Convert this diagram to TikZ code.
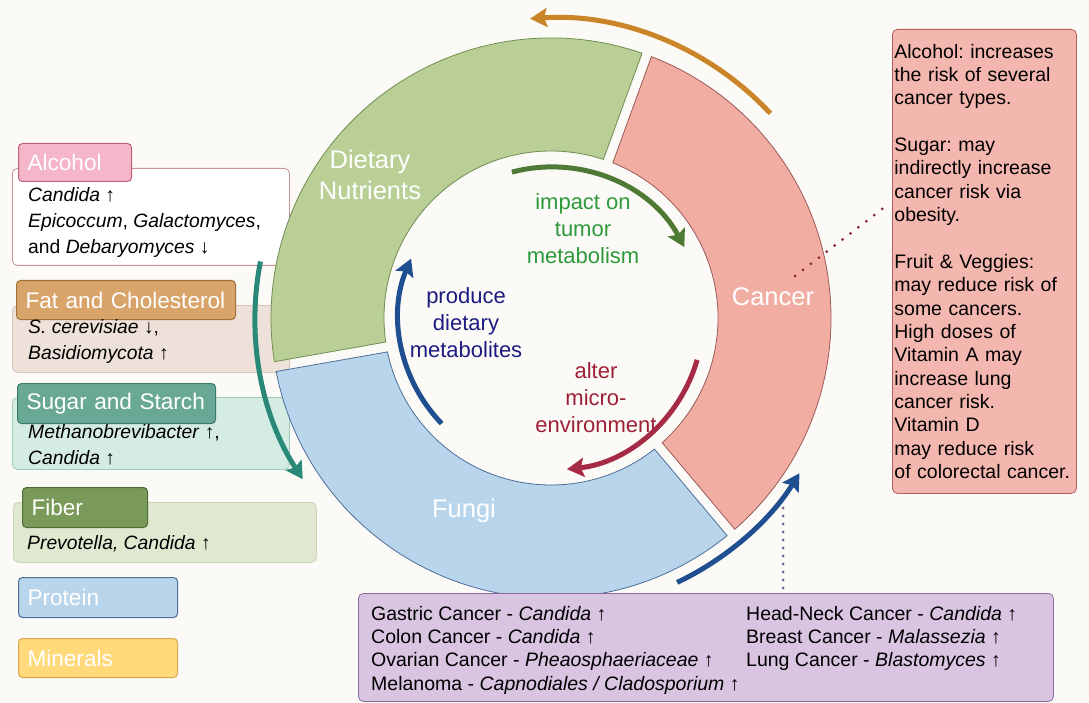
\documentclass[tikz,border=0pt]{standalone}
\usepackage{fontspec}
\setmainfont{Liberation Sans}
\usetikzlibrary{arrows.meta}
\frenchspacing

\definecolor{bgcol}{HTML}{FCFAF7}
\definecolor{dietfill}{HTML}{B9CF95}
\definecolor{dietline}{HTML}{6F8E52}
\definecolor{cancerfill}{HTML}{F2ADA3}
\definecolor{cancerline}{HTML}{9A5A58}
\definecolor{fungifill}{HTML}{B9D5EC}
\definecolor{fungiline}{HTML}{4D6E99}
\definecolor{alcfill}{HTML}{F4B6C8}
\definecolor{alcline}{HTML}{C0607A}
\definecolor{alcbody}{HTML}{C89494}
\definecolor{fatfill}{HTML}{D9A469}
\definecolor{fatline}{HTML}{A0703A}
\definecolor{fatbody}{HTML}{EDE1D9}
\definecolor{fatbodyline}{HTML}{D8C8BC}
\definecolor{sugfill}{HTML}{6AA896}
\definecolor{sugline}{HTML}{3A7A6A}
\definecolor{sugbody}{HTML}{D5ECE3}
\definecolor{sugbodyline}{HTML}{9CCBBB}
\definecolor{fibfill}{HTML}{7A9A5A}
\definecolor{fibline}{HTML}{506A38}
\definecolor{fibbody}{HTML}{E0E8D0}
\definecolor{fibbodyline}{HTML}{C8D4B4}
\definecolor{minfill}{HTML}{FFD97A}
\definecolor{minline}{HTML}{D8A84A}
\definecolor{infofill}{HTML}{F4B7AF}
\definecolor{infoline}{HTML}{B0605C}
\definecolor{genusfill}{HTML}{D9C4E2}
\definecolor{genusline}{HTML}{8A6C9C}
\definecolor{orangeA}{HTML}{C98527}
\definecolor{greenA}{HTML}{4F7A35}
\definecolor{blueA}{HTML}{1F4F91}
\definecolor{redA}{HTML}{A52A45}
\definecolor{tealA}{HTML}{2A8878}
\definecolor{greenT}{HTML}{2D9A3A}
\definecolor{navyT}{HTML}{1C1C80}
\definecolor{redT}{HTML}{9E2036}
\definecolor{dotred}{HTML}{8A1F2E}
\definecolor{dotpurple}{HTML}{6B5E8C}

\begin{document}
\begin{tikzpicture}[
    x=1pt, y=1pt,
    seglabel/.style={text=white, align=center, font=\fontsize{25.5}{31}\selectfont},
    head/.style={rectangle, draw, rounded corners=4pt, line width=1pt, anchor=north west, inner xsep=9pt, inner ysep=0pt, align=left, text=white, font=\fontsize{22.6}{27}\selectfont},
    panel/.style={rectangle, draw, rounded corners=5pt, line width=0.8pt, anchor=north west},
    note/.style={anchor=north west, inner sep=0pt, align=left, font=\fontsize{19.3}{26}\selectfont},
    flow/.style={line width=5pt, -{Stealth[length=17pt, width=19pt, inset=3pt]}},
    inlabel/.style={align=center, font=\fontsize{22}{27}\selectfont},
    dots/.style={line width=3pt, line cap=round, dash pattern=on 0pt off #1},
    dots/.default=8pt
]
\useasboundingbox (0,0) rectangle (1089,-703);
\fill[bgcol] (0,0) rectangle (1089,-703);

% nutrient legend
\node[panel, fill=white, draw=alcbody, minimum width=277, minimum height=97] (alcbox) at (12,-168) {};
\node[head, fill=alcfill, draw=alcline, text width=95, minimum height=38] (alc) at (18,-143) {\mbox{Alcohol}};
\node[note] (alctxt) at (28,-187) {\textit{Candida} ↑\\ \textit{Epicoccum}, \textit{Galactomyces},\\ and \textit{Debaryomyces} ↓};

\node[panel, fill=fatbody, draw=fatbodyline, minimum width=277, minimum height=67] (fatbox) at (12,-305) {};
\node[head, fill=fatfill, draw=fatline, text width=201, minimum height=39] (fat) at (16,-280) {\mbox{Fat and Cholesterol}};
\node[note] (fattxt) at (28,-319) {\textit{S. cerevisiae} ↓,\\ \textit{Basidiomycota} ↑};

\node[panel, fill=sugbody, draw=sugbodyline, minimum width=277, minimum height=72] (sugbox) at (12,-397) {};
\node[head, fill=sugfill, draw=sugline, text width=180, minimum height=40] (sug) at (17,-383) {\mbox{Sugar and Starch}};
\node[note] (sugtxt) at (28,-424) {\textit{Methanobrevibacter} ↑,\\ \textit{Candida} ↑};

\node[panel, fill=fibbody, draw=fibbodyline, minimum width=303, minimum height=60] (fibbox) at (13,-502) {};
\node[head, fill=fibfill, draw=fibline, text width=107, minimum height=40] (fib) at (22,-487) {\mbox{Fiber}};
\node[note] (fibtxt) at (27,-535) {\textit{Prevotella, Candida} ↑};

\node[head, fill=fungifill, draw=fungiline, text width=141, minimum height=40] (prot) at (18,-577) {\mbox{Protein}};
\node[head, fill=minfill, draw=minline, text width=141, minimum height=39] (mins) at (18,-638) {\mbox{Minerals}};

% ring
\coordinate (c) at (551,-318);
\foreach \a/\b/\f/\d in {70/190/dietfill/dietline, 190/310/fungifill/fungiline, 310/430/cancerfill/cancerline}
  \filldraw[fill=\f, draw=\d, line width=0.8pt]
    ([shift={({\a+1.02}:280)}]c) arc[start angle=\a+1.02, end angle=\b-1.02, radius=280]
    -- ([shift={({\b-1.72}:167)}]c) arc[start angle=\b-1.72, end angle=\a+1.72, radius=167] -- cycle;

\node[seglabel] (diet) at (370,-175) {Dietary\\Nutrients};
\node[seglabel] (cancer) at (773,-297) {Cancer};
\node[seglabel] (fungi) at (464,-511) {Fungi};

\node[inlabel, text=greenT] (impact) at (583,-229) {impact on\\tumor\\metabolism};
\node[inlabel, text=navyT] (produce) at (466,-323) {produce\\dietary\\metabolites};
\node[inlabel, text=redT] (alter) at (596,-398) {alter\\micro-\\environment};

% cycle arrows
\draw[flow, orangeA] ([shift={(43:300)}]c) arc[start angle=43, end angle=94, radius=300];
\draw[flow, greenA] ([shift={(105:151)}]c) arc[start angle=105, end angle=28, radius=151];
\draw[flow, blueA] ([shift={(224:152)}]c) arc[start angle=224, end angle=157, radius=152];
\draw[flow, redA] ([shift={(-16:152)}]c) arc[start angle=-16, end angle=-84, radius=152];
\draw[flow, tealA] ([shift={(169:296)}]c) arc[start angle=169, end angle=213, radius=296];
\draw[flow, blueA] ([shift={(-64.5:293)}]c) arc[start angle=-64.5, end angle=-32, radius=293];

% cancer notes
\node[panel, fill=infofill, draw=infoline, text width=180, inner xsep=2pt, minimum height=464, align=left,
      font=\fontsize{19.5}{23.35}\selectfont] (info) at (892,-29)
  {Alcohol: increases\\ the risk of several\\ cancer types.\\[23.35pt]
   Sugar: may\\ indirectly increase\\ cancer risk via\\ obesity.\\[23.35pt]
   Fruit \& Veggies:\\ may reduce risk of\\ some cancers.\\ High doses of\\ Vitamin A may\\ increase lung\\
   cancer risk.\\ Vitamin D\\ may reduce risk\\ of colorectal cancer.};

% fungi per cancer type
\node[panel, fill=genusfill, draw=genusline, minimum width=695, minimum height=108] (genus) at (358,-593) {};
\node[note, font=\fontsize{19.5}{23.3}\selectfont] (genusL) at (371,-606)
  {Gastric Cancer - \textit{Candida} ↑\\ Colon Cancer - \textit{Candida} ↑\\
   Ovarian Cancer - \textit{Pheaosphaeriaceae} ↑\\ Melanoma - \textit{Capnodiales / Cladosporium} ↑};
\node[note, font=\fontsize{19.5}{23.3}\selectfont] (genusR) at (746,-606)
  {Head-Neck Cancer - \textit{Candida} ↑\\ Breast Cancer - \textit{Malassezia} ↑\\ Lung Cancer - \textit{Blastomyces} ↑};

\coordinate (cdot) at (795,-276);
\coordinate (idot) at (890,-203);
\draw[dots=10pt, dotred] (cdot) -- (idot);
\coordinate (fdot) at (783,-508);
\draw[dots, dotpurple] (fdot) -- (fdot |- genus.north);
\end{tikzpicture}
\end{document}
